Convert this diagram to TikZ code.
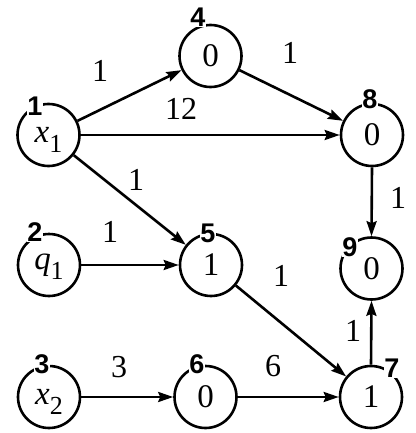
\documentclass[tikz,border=0pt]{standalone}
\usepackage{fontspec}
\setmainfont{Liberation Serif}
\newfontfamily\labfont{Liberation Sans}
\usetikzlibrary{arrows.meta}
\newcommand{\subx}[2]{\textit{#1}\raisebox{-0.3em}[0pt][0pt]{\fontsize{26pt}{26pt}\selectfont #2}}
\begin{document}
\begin{tikzpicture}[x=1pt,y=-1pt,
  vert/.style={circle,draw,line width=2.6pt,minimum size=62pt,inner sep=0pt,font=\fontsize{33pt}{33pt}\selectfont},
  numlab/.style={fill=white,inner sep=0.5pt,font=\labfont\bfseries\fontsize{27pt}{27pt}\selectfont},
  wlab/.style={inner sep=0pt,font=\fontsize{32pt}{32pt}\selectfont},
  arr/.style={line width=2.6pt,-{Stealth[length=15pt,width=10pt,inset=2pt]}}]
\useasboundingbox (0,0) rectangle (415,433);
% vertices
\node[vert] (n1) at (48.5,135) {\subx{x}{1}};
\node[vert] (n2) at (49,265) {\subx{q}{1}};
\node[vert] (n3) at (49,397) {\subx{x}{2}};
\node[vert] (n4) at (210.5,56) {0};
\node[vert] (n5) at (211,265) {1};
\node[vert] (n6) at (205.5,397) {0};
\node[vert] (n7) at (371,397) {1};
\node[vert] (n8) at (372,135) {0};
\node[vert] (n9) at (371.5,268.5) {0};
% number labels
\node[numlab] (l1) at (35,106) {1};
\node[numlab] (l2) at (35,232) {2};
\node[numlab] (l3) at (42,364) {3};
\node[numlab] (l4) at (198,17) {4};
\node[numlab] (l5) at (208,233) {5};
\node[numlab] (l6) at (197,364) {6};
\node[numlab] (l7) at (392,368) {7};
\node[numlab] (l8) at (370,99) {8};
\node[numlab] (l9) at (350,247) {9};
% connectors
\draw[arr] (n1) -- (n4);
\draw[arr] (n1) -- (n8);
\draw[arr] (n1) -- (n5);
\draw[arr] (n4) -- (n8);
\draw[arr] (n8.south) -- (n9.north);
\draw[arr] (n2) -- (n5);
\draw[arr] (n5) -- (n7);
\draw[arr] (n3) -- (n6);
\draw[arr] (n6) -- (n7);
\draw[arr] (n7.north) -- (n9.south);
% edge labels
\node[wlab] (w14) at (100,71) {1};
\node[wlab] (w18) at (181,109) {12};
\node[wlab] (w15) at (136,180) {1};
\node[wlab] (w48) at (290,53) {1};
\node[wlab] (w89) at (398,198) {1};
\node[wlab] (w25) at (110,232) {1};
\node[wlab] (w36) at (119,367) {3};
\node[wlab] (w57) at (281,276) {1};
\node[wlab] (w67) at (273,366) {6};
\node[wlab] (w79) at (353,331) {1};
\end{tikzpicture}
\end{document}
